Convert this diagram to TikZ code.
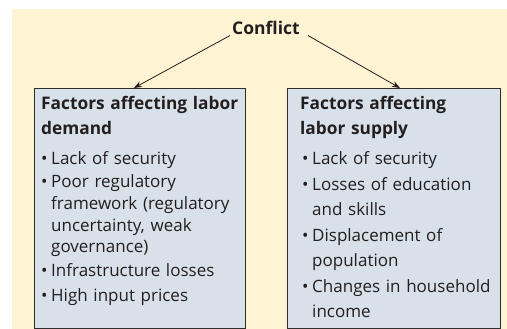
\documentclass[tikz,border=0pt]{standalone}
\usepackage{fontspec}
\setmainfont{Open Sans}
\usepackage{xcolor}
\usepackage{tikz}
\usetikzlibrary{arrows.meta,positioning}
\definecolor{lmCream}{HTML}{FEF4D4}
\definecolor{lmPanel}{HTML}{D8E0E9}
\definecolor{lmInk}{HTML}{231F20}
\definecolor{lmEdge}{HTML}{2E2E2E}
\newcommand{\lmitem}[1]{\makebox[10pt][l]{\textbullet}#1}
\newcommand{\lmcont}[1]{\hspace*{10pt}#1}
\newcommand{\lmhead}[1]{{\fontsize{17.3}{20}\bfseries\selectfont #1}}
\tikzset{
  lm diagram/.style={x=1pt, y=-1pt, text=lmInk},
  lm panel/.style={draw=lmEdge, fill=lmPanel, line width=0.9pt,
    anchor=north west, minimum height=240pt, inner sep=0pt},
  lm text/.style={anchor=base west, inner sep=0pt, align=left},
  lm arrow/.style={-{Stealth[length=8pt,width=6pt]}, draw=lmInk, line width=0.8pt}
}
\begin{document}
\begin{tikzpicture}[lm diagram]
\useasboundingbox (0,0) rectangle (507,329);
\fill[lmCream] (12,9) rectangle (507,329);
\node[font=\fontsize{17.5}{20}\bfseries\selectfont, inner sep=2pt, anchor=base] (conflict) at (266,34.5) {Conflict};
% the two panels
\node[lm panel, minimum width=211pt] (demand) at (34,88) {};
\node[lm panel, minimum width=213pt] (supply) at (287,88) {};
\node[lm text, text width=205pt, font=\fontsize{17}{21.7}\selectfont] (demandtxt) at (41,110) {%
  \lmhead{Factors affecting labor}\\[3.3pt]
  \lmhead{demand}\\[8.3pt]
  \lmitem{Lack of security}\\[1pt]
  \lmitem{Poor regulatory}\\
  \lmcont{framework (regulatory}\\
  \lmcont{uncertainty, weak}\\
  \lmcont{governance)}\\[2.5pt]
  \lmitem{Infrastructure losses}\\[2.5pt]
  \lmitem{High input prices}};
\node[lm text, text width=198pt, font=\fontsize{17}{25.5}\selectfont] (supplytxt) at (302,110) {%
  \hspace*{-2pt}\lmhead{Factors affecting}\\[-0.5pt]
  \hspace*{-2pt}\lmhead{labor supply}\\[4.5pt]
  \lmitem{Lack of security}\\
  \lmitem{Losses of education}\\
  \lmcont{and skills}\\
  \lmitem{Displacement of}\\
  \lmcont{population}\\
  \lmitem{Changes in household}\\
  \lmcont{income}};
\draw[lm arrow] ([yshift=-1pt]conflict.base west) -- ([xshift=-6pt]demand.north);
\draw[lm arrow] ([xshift=6pt,yshift=-1pt]conflict.base east) -- ([xshift=6pt]supply.north);
\end{tikzpicture}
\end{document}
